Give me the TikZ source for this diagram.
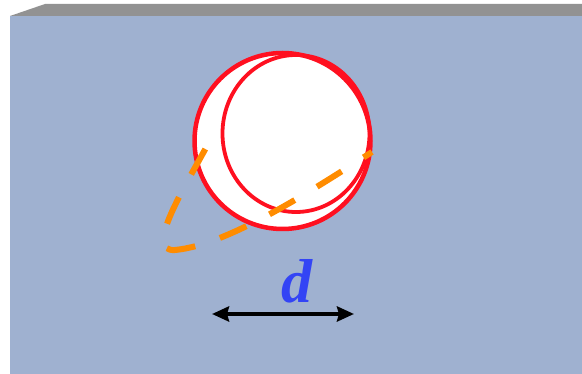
\documentclass[tikz,border=0pt]{standalone}
\usepackage{fontspec}
\usepackage{xcolor}
\usepackage{tikz}
\usetikzlibrary{arrows.meta,calc}
\newfontfamily\labelfont{Liberation Serif}
\definecolor{slab}{HTML}{9FB1D0}
\definecolor{slabtop}{HTML}{929292}
\definecolor{rim}{HTML}{FF1020}
\definecolor{orbit}{HTML}{FF8C00}
\definecolor{dblue}{HTML}{3344F5}
\tikzset{
  face/.style={fill=slab,draw=none},
  topface/.style={fill=slabtop,draw=none},
  sphere/.style={draw=rim,line width=4.5pt,fill=white},
  rimline/.style={draw=rim,line width=3.8pt},
  orbitline/.style={draw=orbit,line width=6pt,dash pattern=on 29pt off 26pt,dash phase=19pt},
  dimarrow/.style={{Stealth[length=17pt,width=15pt,inset=2pt]}-{Stealth[length=17pt,width=15pt,inset=2pt]},line width=4pt,black},
  dlbl/.style={font=\labelfont\bfseries\itshape\fontsize{62}{62}\selectfont,text=dblue,inner sep=0pt},
}

\begin{document}
\begin{tikzpicture}[x=1pt,y=-1pt]
    \useasboundingbox (0,0) rectangle (582,374);
    % slab
    \fill[face] (10,16) rectangle (582,374);
    \fill[topface] (10,16) -- (45,4) -- (582,4) -- (582,16) -- cycle;
    % sphere and its shifted rim
    \coordinate (ballc) at (282.5,141);
    \coordinate (rimc) at (296,133.5);
    \draw[sphere] (ballc) circle[radius=88pt];
    \draw[rimline] (rimc) ellipse[x radius=73.5pt,y radius=78.5pt];
    % front part of the orbit
    \draw[orbitline,line cap=butt] (372,152) .. controls (320,185) and (230,245) .. (175,250)
      .. controls (145,252) and (180,195) .. (207,146);
    % width
    \coordinate (dimL) at (212,314);
    \coordinate (dimR) at (354,314);
    \draw[dimarrow] (dimL) -- (dimR);
    \node[dlbl] (dlabel) at (297,281) {d};
  \end{tikzpicture}
\end{document}
